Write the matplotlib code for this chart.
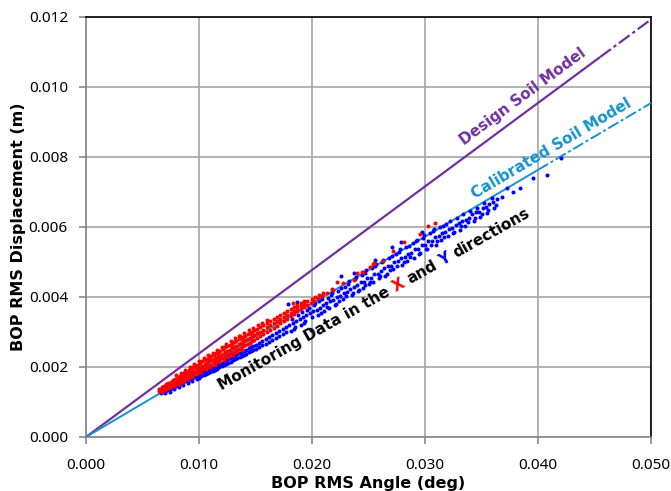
import matplotlib
matplotlib.use("Agg")
import matplotlib.pyplot as plt
import numpy as np

# ---------------- data (angle in 1e-3 deg, displacement in 1e-3 m) ----------------
x_red = [6.5, 6.5, 6.7, 6.7, 6.7, 6.9, 6.9, 6.9, 7.1, 7.1, 7.1, 7.3, 7.3, 7.3, 7.5, 7.5, 7.5, 7.7, 7.7, 7.7, 7.9, 7.9, 7.9,
         8.1, 8.1, 8.1, 8.3, 8.3, 8.3, 8.5, 8.5, 8.5, 8.7, 8.7, 8.7, 8.9, 8.9, 8.9, 9.1, 9.1, 9.1, 9.3, 9.3, 9.3, 9.5, 9.5, 9.5, 9.7, 9.7, 9.7, 9.9, 9.9, 9.9,
         10.1, 10.1, 10.1, 10.3, 10.3, 10.3, 10.5, 10.5, 10.5, 10.7, 10.7, 10.7, 10.9, 10.9, 10.9, 11.1, 11.1, 11.1, 11.3, 11.3, 11.3, 11.5, 11.5, 11.5, 11.7, 11.7, 11.7, 11.9, 11.9, 11.9,
         12.1, 12.1, 12.1, 12.3, 12.3, 12.3, 12.5, 12.5, 12.5, 12.7, 12.7, 12.7, 12.9, 12.9, 12.9, 13.1, 13.1, 13.1, 13.3, 13.3, 13.3, 13.5, 13.5, 13.5, 13.7, 13.7, 13.7, 13.9, 13.9, 13.9,
         14.1, 14.1, 14.1, 14.3, 14.3, 14.3, 14.5, 14.5, 14.5, 14.7, 14.7, 14.7, 14.9, 14.9, 14.9, 15.1, 15.1, 15.1,
         15.4, 15.4, 15.4, 15.7, 15.7, 15.7, 16.0, 16.0, 16.0, 16.3, 16.3, 16.3, 16.6, 16.6, 16.6, 16.9, 16.9, 16.9, 17.2, 17.2, 17.2,
         17.5, 17.5, 17.5, 17.8, 17.8, 17.8, 18.1, 18.1, 18.1, 18.4, 18.4, 18.4, 18.7, 18.7, 18.7, 19.0, 19.0, 19.0, 19.3, 19.3, 19.3,
         19.6, 19.6, 19.9, 20.0, 20.2, 20.3, 20.5, 20.6, 20.9, 21.0, 21.3, 21.8, 21.9, 22.2, 22.7, 23.7, 24.0, 24.4, 24.5, 25.1,
         25.4, 25.5, 26.3, 27.2, 28.1, 29.6, 30.3, 30.9, 13.5, 18.3,
         8.0, 8.4, 8.8, 9.2, 9.6, 10.0, 10.4, 10.8, 11.2, 11.6, 12.0, 12.4, 12.8, 13.2, 13.6, 14.0, 14.4, 14.8, 15.2, 15.6, 16.0,
         8.2, 8.6, 9.0, 9.4, 9.8, 10.2, 10.6, 11.0, 11.4, 11.8, 12.2, 12.6, 13.0, 13.4, 13.8]
y_red = [1.31, 1.38, 1.28, 1.36, 1.42, 1.33, 1.41, 1.47, 1.36, 1.44, 1.51, 1.39, 1.47, 1.55, 1.43, 1.52, 1.58, 1.46, 1.55, 1.63, 1.50, 1.58, 1.67,
         1.53, 1.63, 1.71, 1.57, 1.66, 1.75, 1.60, 1.69, 1.79, 1.64, 1.74, 1.83, 1.68, 1.77, 1.86, 1.71, 1.81, 1.91, 1.75, 1.85, 1.95, 1.79, 1.89, 1.99, 1.82, 1.93, 2.03, 1.86, 1.96, 2.07,
         1.89, 2.01, 2.12, 1.93, 2.04, 2.16, 1.97, 2.08, 2.19, 2.00, 2.12, 2.24, 2.04, 2.16, 2.27, 2.07, 2.19, 2.31, 2.11, 2.24, 2.35, 2.15, 2.27, 2.40, 2.18, 2.31, 2.43, 2.22, 2.35, 2.47,
         2.26, 2.38, 2.51, 2.29, 2.42, 2.56, 2.33, 2.46, 2.59, 2.37, 2.50, 2.63, 2.40, 2.54, 2.67, 2.44, 2.58, 2.71, 2.48, 2.61, 2.75, 2.51, 2.65, 2.79, 2.55, 2.69, 2.83, 2.59, 2.73, 2.87,
         2.62, 2.77, 2.90, 2.66, 2.80, 2.94, 2.70, 2.84, 2.97, 2.74, 2.88, 3.01, 2.78, 2.92, 3.05, 2.82, 2.96, 3.08,
         2.88, 3.01, 3.14, 2.94, 3.07, 3.20, 3.00, 3.13, 3.26, 3.06, 3.19, 3.32, 3.12, 3.25, 3.37, 3.18, 3.31, 3.43, 3.25, 3.37, 3.48,
         3.31, 3.43, 3.54, 3.38, 3.49, 3.60, 3.45, 3.55, 3.66, 3.52, 3.61, 3.72, 3.59, 3.68, 3.77, 3.66, 3.74, 3.83, 3.72, 3.80, 3.89,
         3.78, 3.90, 3.84, 3.95, 3.90, 4.00, 3.96, 4.05, 4.04, 4.12, 4.12, 4.22, 4.20, 4.43, 4.40, 4.49, 4.69, 4.71, 4.71, 4.86,
         4.94, 4.97, 5.03, 5.31, 5.57, 5.80, 6.03, 6.11, 2.89, 3.82,
         1.76, 1.84, 1.92, 2.00, 2.09, 2.17, 2.25, 2.33, 2.41, 2.49, 2.57, 2.65, 2.74, 2.82, 2.90, 2.98, 3.05, 3.12, 3.19, 3.26, 3.33,
         1.52, 1.58, 1.65, 1.72, 1.79, 1.86, 1.93, 2.00, 2.07, 2.14, 2.21, 2.28, 2.35, 2.42, 2.50]

x_blue = [6.6, 6.8, 7.0, 7.0, 7.2, 7.4, 7.4, 7.6, 7.8, 7.8, 8.0, 8.2, 8.2, 8.4, 8.6, 8.6, 8.8, 9.0, 9.0, 9.2, 9.4, 9.4, 9.6, 9.8, 9.8,
          10.0, 10.0, 10.2, 10.2, 10.4, 10.4, 10.6, 10.6, 10.8, 10.8, 11.0, 11.0, 11.2, 11.2, 11.4, 11.4, 11.6, 11.6, 11.8, 11.8,
          12.0, 12.0, 12.2, 12.2, 12.4, 12.4, 12.6, 12.6, 12.8, 12.8, 13.0, 13.0, 13.2, 13.2, 13.4, 13.4, 13.6, 13.6, 13.8, 13.8,
          14.0, 14.0, 14.2, 14.2, 14.4, 14.4, 14.6, 14.6, 14.8, 14.8, 15.0, 15.0,
          15.3, 15.3, 15.6, 15.6, 15.9, 15.9, 16.2, 16.2, 16.5, 16.5, 16.8, 16.8, 17.1, 17.1, 17.4, 17.4, 17.7, 17.7,
          18.0, 18.1, 17.9, 18.3, 18.4, 18.2, 18.6, 18.5, 18.7, 18.9, 19.0, 18.8, 19.2, 19.3, 19.1, 19.5, 19.4, 19.6, 19.8, 19.9, 19.7,
          20.1, 20.0, 20.2, 20.4, 20.5, 20.3, 20.7, 20.8, 20.6, 21.0, 21.1, 20.9, 21.3, 21.2, 21.4,
          21.6, 21.5, 21.7, 21.9, 22.0, 21.8, 22.2, 22.1, 22.3, 22.5, 22.4, 22.6, 22.8, 22.7, 22.95, 22.6,
          23.1, 23.0, 23.2, 23.4, 23.5, 23.3, 23.7, 23.6, 23.8, 23.75, 24.0, 24.1, 23.9, 24.3, 24.2, 24.4,
          24.6, 24.5, 24.7, 24.65, 24.9, 25.0, 24.8, 25.2, 25.1, 25.3, 25.5, 25.4, 25.6, 25.55, 25.8, 25.9, 25.7,
          26.1, 26.0, 26.2, 26.4, 26.5, 26.3, 26.7, 26.6, 26.8, 27.0, 26.9, 27.1, 27.05, 27.3, 27.2, 27.4,
          27.6, 27.5, 27.7, 27.9, 28.0, 27.8, 27.85, 28.2, 28.1, 28.3, 28.5, 28.4, 28.6, 28.8, 28.7, 28.9,
          29.1, 29.0, 29.2, 29.4, 29.5, 29.3, 29.7, 29.6, 29.8, 29.75, 30.0, 30.1, 29.9, 30.3, 30.2, 30.4,
          30.6, 30.5, 30.7, 30.9, 31.0, 30.8, 31.2, 31.1, 31.3, 31.5, 31.4, 31.6, 31.8, 31.7, 31.9,
          32.1, 32.0, 32.2, 32.4, 32.5, 32.7, 32.6, 32.8, 33.0, 33.1, 33.3, 33.2, 33.4, 33.6, 33.5,
          33.9, 33.8, 34.0, 34.2, 34.3, 34.5, 34.4, 34.6, 34.8, 34.9, 35.1, 35.0, 35.2, 35.4, 35.5,
          35.7, 35.6, 35.9, 36.0, 36.1, 36.4, 36.3, 36.8, 37.3, 37.8, 38.4, 39.6, 40.8, 42.0]
y_blue = [1.26, 1.29, 1.31, 1.25, 1.34, 1.37, 1.30, 1.40, 1.43, 1.36, 1.46, 1.50, 1.42, 1.53, 1.56, 1.48, 1.59, 1.62, 1.55, 1.66, 1.69, 1.60, 1.72, 1.75, 1.66,
          1.78, 1.70, 1.81, 1.73, 1.85, 1.76, 1.88, 1.79, 1.91, 1.83, 1.95, 1.86, 1.98, 1.89, 2.01, 1.91, 2.05, 1.95, 2.08, 1.99,
          2.12, 2.02, 2.15, 2.05, 2.19, 2.08, 2.22, 2.12, 2.26, 2.15, 2.29, 2.19, 2.33, 2.22, 2.36, 2.25, 2.40, 2.29, 2.43, 2.32,
          2.47, 2.35, 2.50, 2.38, 2.54, 2.42, 2.57, 2.45, 2.61, 2.48, 2.64, 2.52,
          2.70, 2.57, 2.75, 2.62, 2.81, 2.67, 2.86, 2.72, 2.92, 2.77, 2.97, 2.83, 3.03, 2.88, 3.08, 2.93, 3.14, 2.99,
          3.20, 3.04, 3.80, 3.25, 3.09, 3.36, 3.31, 3.15, 3.86, 3.36, 3.20, 3.50, 3.42, 3.26, 3.58, 3.48, 3.31, 3.64, 3.53, 3.06, 3.70,
          3.59, 3.42, 3.76, 3.64, 3.48, 3.82, 3.70, 3.54, 3.88, 3.76, 3.60, 3.93, 3.71, 3.82, 3.98,
          3.89, 3.68, 4.06, 3.91, 3.78, 4.12, 4.01, 3.80, 4.17, 4.03, 3.90, 4.26, 4.12, 3.95, 4.28, 4.60,
          4.14, 4.02, 4.38, 4.24, 4.05, 4.47, 4.30, 4.12, 4.52, 4.70, 4.33, 4.18, 4.57, 4.42, 4.20, 4.64,
          4.44, 4.27, 4.70, 4.33, 4.53, 4.36, 4.76, 4.55, 4.42, 4.82, 4.65, 4.44, 4.88, 5.07, 4.67, 4.54, 4.94,
          4.73, 4.59, 4.99, 4.83, 4.61, 5.06, 4.88, 4.67, 5.12, 4.90, 4.77, 5.17, 5.42, 5.00, 4.79, 5.24,
          5.02, 4.89, 5.30, 5.12, 4.91, 5.36, 5.56, 5.14, 5.01, 5.42, 5.24, 5.03, 5.47, 5.26, 5.13, 5.53,
          5.36, 5.12, 5.59, 5.38, 5.24, 5.64, 5.48, 5.26, 5.70, 5.86, 5.50, 5.36, 5.76, 5.59, 5.38, 5.82,
          5.61, 5.48, 5.88, 5.71, 5.50, 5.93, 5.73, 5.60, 5.99, 5.83, 5.62, 6.04, 5.85, 5.72, 6.10,
          5.95, 5.74, 6.16, 5.97, 5.84, 6.07, 5.86, 6.26, 6.12, 5.92, 6.18, 6.02, 6.36, 6.20, 6.04,
          6.26, 6.14, 6.46, 6.36, 6.16, 6.42, 6.26, 6.54, 6.44, 6.28, 6.54, 6.37, 6.68, 6.56, 6.40,
          6.66, 6.48, 6.83, 6.72, 6.55, 6.80, 6.62, 6.86, 7.11, 7.00, 7.11, 7.40, 7.49, 7.97]

# model lines: displacement = slope * angle
model_x = [0.0, 50.0]
design_y = [0.0, 11.93]
calib_y = [0.0, 9.54]

x_ticks = [0.000, 0.010, 0.020, 0.030, 0.040, 0.050]
y_ticks = [0.000, 0.002, 0.004, 0.006, 0.008, 0.010, 0.012]

# ---------------- plotting ----------------
plt.rcParams['font.family'] = ['Noto Sans', 'DejaVu Sans']
fig = plt.figure(figsize=(6.71, 4.91), dpi=100)
ax = fig.add_axes([86/671, 54/491, 565/671, 420/491])

PURPLE = '#7030A0'
CYAN = '#1592D2'

xr = np.array(x_red) * 1e-3; yr = np.array(y_red) * 1e-3
xb = np.array(x_blue) * 1e-3; yb = np.array(y_blue) * 1e-3
mx = np.array(model_x) * 1e-3
dy = np.array(design_y) * 1e-3
cy = np.array(calib_y) * 1e-3

def model_line(ax, xs, ys, xbreak, color, lw):
    slope = (ys[1] - ys[0]) / (xs[1] - xs[0])
    yb_ = ys[0] + slope * (xbreak - xs[0])
    ax.plot([xs[0], xbreak], [ys[0], yb_], color=color, lw=lw, zorder=3, solid_capstyle='butt')
    ax.plot([xbreak, xs[1]], [yb_, ys[1]], color=color, lw=lw, zorder=3,
            linestyle=(0, (6, 1.5, 1.5, 1.5)))

model_line(ax, mx, dy, 0.0455, PURPLE, 1.6)
model_line(ax, mx, cy, 0.0400, CYAN, 1.4)

ax.plot(xb, yb, 'o', color='#0000FF', markersize=2.9, markeredgewidth=0, zorder=4)
ax.plot(xr, yr, 'o', color='#FF0000', markersize=2.9, markeredgewidth=0, zorder=5)

ax.set_xlim(0, 0.05)
ax.set_ylim(0, 0.012)
ax.set_xticks(x_ticks)
ax.set_yticks(y_ticks)
ax.set_xticklabels([f"{v:.3f}" for v in x_ticks])
ax.set_yticklabels([f"{v:.3f}" for v in y_ticks])
ax.grid(True, color='#A6A6A6', lw=1.2)
ax.set_axisbelow(True)
for s in ['left', 'bottom']:
    ax.spines[s].set_color('#868686')
    ax.spines[s].set_linewidth(1.2)
for s in ['top', 'right']:
    ax.spines[s].set_color('#000000')
    ax.spines[s].set_linewidth(1.2)
ax.tick_params(axis='both', direction='out', length=5, width=1.2, color='#868686',
               labelsize=11, labelcolor='#000000')
ax.tick_params(axis='x', pad=10)
ax.tick_params(axis='y', pad=8)

ax.set_xlabel('BOP RMS Angle (deg)', fontsize=11.5, fontweight='bold', family='DejaVu Sans', labelpad=2)
ax.set_ylabel('BOP RMS Displacement (m)', fontsize=11.5, fontweight='bold', family='DejaVu Sans', labelpad=2)

fig.canvas.draw()

def disp_angle(x0, y0, x1, y1):
    p0 = ax.transData.transform((x0, y0)); p1 = ax.transData.transform((x1, y1))
    return np.degrees(np.arctan2(p1[1] - p0[1], p1[0] - p0[0]))

ang_d = disp_angle(mx[0], dy[0], mx[1], dy[1])
ang_c = disp_angle(mx[0], cy[0], mx[1], cy[1])

def px_to_fig(px, py):
    return px / 671, 1 - py / 491

fx, fy = px_to_fig(523, 97)
fig.text(fx, fy, 'Design Soil Model', color=PURPLE, fontsize=11, fontweight='bold',
         family='DejaVu Sans', rotation=ang_d, ha='center', va='center', rotation_mode='anchor')
fx, fy = px_to_fig(551, 149)
fig.text(fx, fy, 'Calibrated Soil Model', color=CYAN, fontsize=11, fontweight='bold',
         family='DejaVu Sans', rotation=ang_c, ha='center', va='center', rotation_mode='anchor')

renderer = fig.canvas.get_renderer()
fp = dict(fontsize=11, fontweight='bold', family='DejaVu Sans')
def width(s):
    t = fig.text(0, 0, s, **fp)
    w = t.get_window_extent(renderer).width
    t.remove()
    return w

full = 'Monitoring Data in the X and Y directions'
pieces = [('Monitoring Data in the', 'Monitoring Data in the', 'black'),
          ('Monitoring Data in the X', 'X', '#FF0000'),
          ('Monitoring Data in the X and', 'and', 'black'),
          ('Monitoring Data in the X and Y', 'Y', '#0000FF'),
          (full, 'directions', 'black')]
ang_m = 29.4
W = width(full)
cx, cyy = 374, 299
c_disp = np.array([cx, 491 - cyy])
u = np.array([np.cos(np.radians(ang_m)), np.sin(np.radians(ang_m))])
start = c_disp - u * W / 2
for prefix, s, col in pieces:
    off = width(prefix) - width(s)
    p = start + u * off
    fig.text(p[0] / 671, p[1] / 491, s, color=col, rotation=ang_m, ha='left', va='center',
             rotation_mode='anchor', **fp)

fig.savefig('out.png', dpi=100)
